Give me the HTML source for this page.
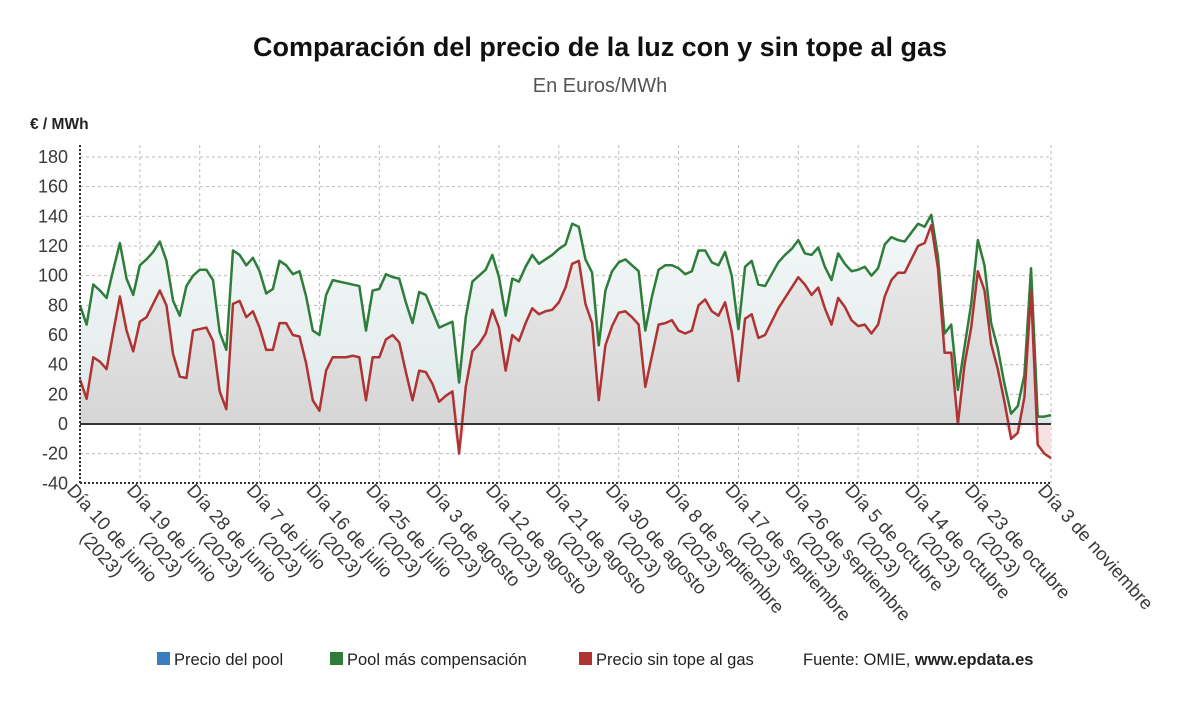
<!DOCTYPE html>
<html><head><meta charset="utf-8"><style>
body{margin:0;background:#fff;font-family:"Liberation Sans",sans-serif;}
svg text{font-family:"Liberation Sans",sans-serif;}
</style></head><body>
<svg id="chart" width="1200" height="705">
<defs>
<linearGradient id="gFill" x1="0" y1="0" x2="0" y2="1"><stop offset="0" stop-color="#f4f8f8"/><stop offset="1" stop-color="#dfe9ea"/></linearGradient>
<linearGradient id="rFill" x1="0" y1="0" x2="0" y2="1"><stop offset="0" stop-color="#ececec"/><stop offset="1" stop-color="#d6d6d6"/></linearGradient>
</defs>
<text x="600" y="56" text-anchor="middle" font-size="27" font-weight="bold" fill="#111" textLength="694">Comparación del precio de la luz con y sin tope al gas</text>
<text x="600" y="92" text-anchor="middle" font-size="20" fill="#555">En Euros/MWh</text>
<text x="30" y="129" font-size="15.5" font-weight="bold" fill="#222">€ / MWh</text>
<g id="grid"></g>
<g id="areas"></g>
<g id="lines"></g>
<g id="axes"></g>
<g>
<rect x="157" y="652" width="13" height="13" fill="#3a7ebf"/>
<text x="174" y="665" font-size="16.5" fill="#222">Precio del pool</text>
<rect x="330" y="652" width="13" height="13" fill="#2e7d3a"/>
<text x="347" y="665" font-size="16.5" fill="#222">Pool más compensación</text>
<rect x="579" y="652" width="13" height="13" fill="#b03333"/>
<text x="596" y="665" font-size="16.5" fill="#222">Precio sin tope al gas</text>
<text x="803" y="665" font-size="16.5" fill="#222">Fuente: OMIE, <tspan font-weight="bold">www.epdata.es</tspan></text>
</g>
</svg>
<script>
const compensation=[80,67,94,90,85,104,122,98,87,107,111,116,123,110,83,73,93,100,104,104,97,62,50,117,114,107,112,103,88,91,110,107,101,103,86,63,60,87,97,96,95,94,93,63,90,91,101,99,98,82,68,89,87,76,65,67,69,28,72,96,100,104,114,99,73,98,96,106,114,108,111,114,118,121,135,133,111,102,53,90,103,109,111,107,103,63,86,104,107,107,105,101,103,117,117,109,107,116,100,64,106,110,94,93,101,109,114,118,124,115,114,119,106,97,115,108,103,104,106,100,105,121,126,124,123,129,135,133,141,113,61,67,23,52,81,124,107,68,51,27,7,12,33,105,5,5,6];
const noCap=[30,17,45,42,37,62,86,63,49,69,72,81,90,80,47,32,31,63,64,65,56,22,10,81,83,72,76,65,50,50,68,68,60,59,41,16,9,36,45,45,45,46,45,16,45,45,57,60,55,35,16,36,35,27,15,19,22,-20,25,49,54,61,77,65,36,60,56,68,78,74,76,77,82,92,108,110,81,68,16,53,66,75,76,72,67,25,46,67,68,70,63,61,63,80,84,76,73,82,62,29,71,74,58,60,69,78,85,92,99,94,87,92,78,67,85,79,70,66,67,61,67,86,97,102,102,111,120,122,134,105,48,48,0,40,65,103,90,54,37,15,-10,-6,18,90,-14,-20,-23];
const yTicks=[-40,-20,0,20,40,60,80,100,120,140,160,180];
const xTickLabels=["Día 10 de junio","Día 19 de junio","Día 28 de junio","Día 7 de julio","Día 16 de julio","Día 25 de julio","Día 3 de agosto","Día 12 de agosto","Día 21 de agosto","Día 30 de agosto","Día 8 de septiembre","Día 17 de septiembre","Día 26 de septiembre","Día 5 de octubre","Día 14 de octubre","Día 23 de octubre","Día 3 de noviembre"];
const xTickDays=[0,9,18,27,36,45,54,63,72,81,90,99,108,117,126,135,146];
const xTickYear=["(2023)","(2023)","(2023)","(2023)","(2023)","(2023)","(2023)","(2023)","(2023)","(2023)","(2023)","(2023)","(2023)","(2023)","(2023)","(2023)",""];

const NS="http://www.w3.org/2000/svg";
const X0=80,X1=1051,Y0=424,PPU=267/180;
const nDays=compensation.length-1;
function xs(d){return X0+(X1-X0)*d/nDays;}
function ys(v){return Y0-v*PPU;}
function mk(tag,attrs,parent){const e=document.createElementNS(NS,tag);for(const k in attrs)e.setAttribute(k,attrs[k]);parent.appendChild(e);return e;}
const grid=document.getElementById('grid'),areas=document.getElementById('areas'),lines=document.getElementById('lines'),axes=document.getElementById('axes');

yTicks.forEach(v=>{
  if(v!==-40){const l=mk('line',{x1:X0,x2:X1,y1:ys(v),y2:ys(v),stroke:'#bbb','stroke-dasharray':'3,3'},grid);
  
  }
  const t=mk('text',{x:68,y:ys(v)+6,'text-anchor':'end','font-size':18,fill:'#3a3a3a'},axes);t.textContent=v;
  
  
});
xTickDays.forEach((d,i)=>{
  const l=mk('line',{x1:xs(d),x2:xs(d),y1:145,y2:483,stroke:'#bbb','stroke-dasharray':'3,3'},grid);
  
  
  const t=mk('text',{transform:`translate(${xs(d)-14},${491}) rotate(48)`,'font-size':18.5,fill:'#3a3a3a'},axes);
  
  
  const s1=mk('tspan',{x:0,y:0},t);s1.textContent=xTickLabels[i];
  if(xTickYear[i]){const s2=mk('tspan',{x:44,y:22},t);s2.textContent=xTickYear[i];}
});
function pts(arr){return arr.map((v,i)=>xs(i)+','+ys(v)).join(' ');}
const gA=mk('polygon',{points:pts(compensation)+` ${xs(nDays)},${Y0} ${X0},${Y0}`,fill:'url(#gFill)'},areas);


const rA=mk('polygon',{points:pts(noCap.map(v=>Math.max(v,0)))+` ${xs(nDays)},${Y0} ${X0},${Y0}`,fill:'url(#rFill)'},areas);


const nA=mk('polygon',{points:pts(noCap.map(v=>Math.min(v,0)))+` ${xs(nDays)},${Y0} ${X0},${Y0}`,fill:'#f6e2e2'},areas);


const gL=mk('polyline',{points:pts(compensation),fill:'none',stroke:'#2e7d3a','stroke-width':2.5,'stroke-linejoin':'round'},lines);


const rL=mk('polyline',{points:pts(noCap),fill:'none',stroke:'#b03333','stroke-width':2.5,'stroke-linejoin':'round'},lines);


const z=mk('line',{x1:X0,x2:X1,y1:Y0,y2:Y0,stroke:'#333','stroke-width':2},axes);


const ya=mk('line',{x1:X0,x2:X0,y1:145,y2:483,stroke:'#333','stroke-width':2,'stroke-dasharray':'2,2'},axes);


const xa=mk('line',{x1:X0,x2:X1,y1:483,y2:483,stroke:'#333','stroke-width':2,'stroke-dasharray':'2,2'},axes);


</script>
</body></html>
